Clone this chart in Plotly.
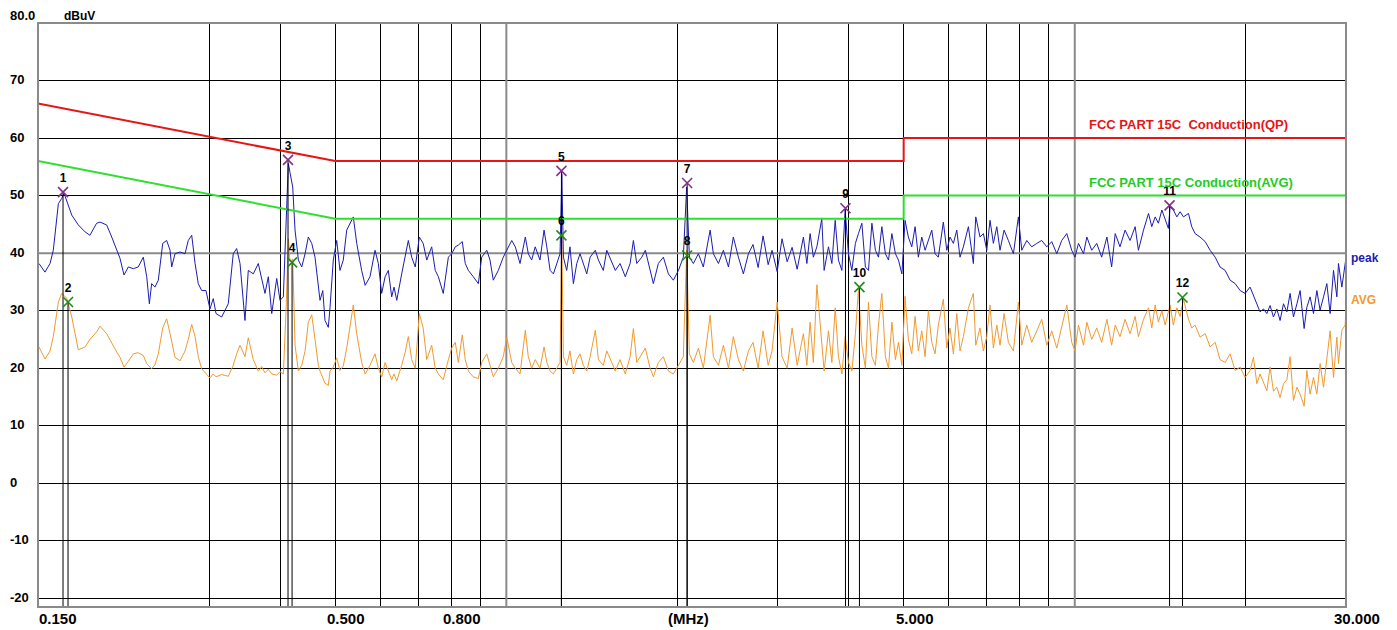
import math
import plotly.graph_objects as go

# ---------------- data ----------------
freq_mhz = [
    0.1506, 0.1543, 0.1575, 0.1596, 0.1629, 0.1651, 0.1667, 0.1685, 0.1720, 0.1766,
    0.1815, 0.1851, 0.1902, 0.1928, 0.1981, 0.2022, 0.2064, 0.2091, 0.2125, 0.2163,
    0.2207, 0.2251, 0.2298, 0.2330, 0.2355, 0.2377, 0.2409, 0.2442, 0.2486, 0.2526,
    0.2561, 0.2578, 0.2613, 0.2667, 0.2721, 0.2757, 0.2796, 0.2834, 0.2871, 0.2911,
    0.2962, 0.3010, 0.3051, 0.3085, 0.3156, 0.3242, 0.3308, 0.3354, 0.3400, 0.3469,
    0.3516, 0.3588, 0.3661, 0.3712, 0.3762, 0.3813, 0.3866, 0.3945, 0.3998, 0.4052,
    0.4097, 0.4135, 0.4163, 0.4209, 0.4249, 0.4307, 0.4366, 0.4425, 0.4484, 0.4546,
    0.4607, 0.4670, 0.4701, 0.4754, 0.4797, 0.4862, 0.4896, 0.4961, 0.5030, 0.5097,
    0.5166, 0.5238,
    0.538, 0.5455, 0.5565, 0.5645, 0.5756, 0.5875, 0.5954, 0.6035, 0.6120, 0.6200,
    0.6285, 0.6345, 0.6415, 0.6545, 0.6640, 0.6723, 0.6815, 0.6914, 0.7030, 0.7140,
    0.7244, 0.7390, 0.7498, 0.7593, 0.7745, 0.7907, 0.8014, 0.8131, 0.8233, 0.8366,
    0.8467, 0.8574, 0.8746, 0.8928, 0.9050, 0.9238, 0.9360, 0.9485, 0.9680, 0.9877,
    1.0017, 1.022, 1.037, 1.057, 1.080, 1.093, 1.108, 1.124, 1.146, 1.165,
    1.178, 1.194, 1.210, 1.227, 1.243, 1.252, 1.260, 1.277, 1.294, 1.312,
    1.330, 1.348, 1.366, 1.385, 1.404, 1.434, 1.452, 1.481, 1.502, 1.533,
    1.555, 1.585, 1.619, 1.651, 1.673, 1.696, 1.731, 1.756, 1.790, 1.814,
    1.851, 1.889, 1.928, 1.967, 2.008, 2.048, 2.076, 2.099, 2.133, 2.177,
    2.221, 2.283, 2.313, 2.361, 2.409, 2.459, 2.508, 2.560, 2.612, 2.666,
    2.716, 2.773, 2.829, 2.888, 2.934, 2.995, 3.055, 3.119, 3.182, 3.248,
    3.331, 3.378, 3.423, 3.468, 3.518, 3.589, 3.623, 3.687, 3.738, 3.789,
    3.839, 3.893, 3.945, 3.998, 4.053, 4.112, 4.163, 4.221, 4.282, 4.336,
    4.396, 4.459, 4.515, 4.577, 4.643, 4.702, 4.767, 4.835, 4.896, 4.964,
    5.028, 5.096, 5.167, 5.237, 5.307, 5.380, 5.453, 5.526, 5.603, 5.678,
    5.754, 5.872, 5.954, 6.032, 6.116, 6.200, 6.282, 6.368, 6.499, 6.631,
    6.696, 6.812, 6.906, 7.001, 7.094, 7.191, 7.291, 7.387, 7.510, 7.642,
    7.799, 7.958, 8.068, 8.233, 8.399, 8.574, 8.746, 8.928, 9.108, 9.297,
    9.485, 9.682, 9.877, 10.01, 10.15, 10.36, 10.50, 10.71, 10.93, 11.15,
    11.39, 11.61, 11.78, 12.01, 12.26, 12.51, 12.77, 12.94, 13.21, 13.48,
    13.66, 13.85, 14.03, 14.23, 14.42, 14.61, 14.71, 14.91, 15.12, 15.32,
    15.53, 15.85, 16.06, 16.28, 16.61, 16.96, 17.30, 17.66, 18.01, 18.39,
    18.76, 19.15, 19.54, 19.94, 20.34, 20.62, 20.91, 21.18, 21.48, 21.77,
    22.06, 22.36, 22.67, 22.97, 23.29, 23.61, 23.92, 24.25, 24.59, 24.91,
    25.32, 25.60, 25.94, 26.30, 26.66, 27.01, 27.39, 27.76, 28.13, 28.52,
    28.91, 29.10, 29.50, 29.90, 30.00,
]

peak_dbuv = [
    38.2, 36.7, 38.2, 40.5, 48.6, 49.5, 50.4, 49.2, 46.6, 44.9,
    43.7, 43.1, 45.2, 45.4, 44.9, 42.8, 40.5, 39.1, 36.2, 37.6,
    37.3, 37.6, 39.3, 35.9, 31.2, 34.7, 34.1, 35.3, 41.7, 42.2,
    40.5, 37.6, 39.9, 40.2, 39.9, 42.2, 43.1, 38.2, 34.7, 33.5,
    33.5, 30.3, 32.1, 29.5, 28.9, 31.2, 39.9, 40.8, 38.2, 28.3,
    37.0, 36.4, 38.2, 35.3, 33.0, 35.9, 29.5, 35.6, 31.8, 32.4,
    45.7, 55.6, 54.0, 51.5, 44.0, 38.8, 37.6, 39.9, 42.8, 41.7,
    39.3, 34.7, 31.8, 33.5, 28.3, 27.1, 30.6, 38.8, 42.2, 37.0,
    38.8, 44.0,
    46.3, 41.7, 37.0, 34.4, 35.9, 40.5, 38.2, 33.0, 35.9, 37.0,
    32.4, 34.1, 31.8, 36.4, 39.3, 42.2, 39.3, 37.6, 42.8, 41.7,
    38.8, 41.1, 37.0, 35.9, 33.0, 39.3, 39.9, 41.1, 41.4, 42.0,
    38.2, 37.0, 35.9, 34.7, 39.3, 40.5, 38.8, 35.3, 37.0, 39.3,
    40.5, 42.2, 41.1, 38.2, 42.8, 39.9, 38.8, 41.1, 38.8, 44.0,
    41.1, 37.0, 36.4, 38.2, 39.9, 53.8, 39.3, 37.0, 41.1, 34.7,
    38.2, 39.9, 38.2, 36.4, 39.3, 40.5, 38.8, 37.0, 40.5, 38.5,
    37.0, 38.2, 35.9, 38.2, 42.2, 38.2, 39.3, 40.5, 37.0, 34.7,
    38.2, 39.3, 36.4, 35.3, 37.0, 39.3, 51.5, 39.3, 38.2, 39.9,
    37.6, 44.0, 39.9, 38.2, 40.5, 37.6, 42.8, 39.3, 36.4, 39.9,
    41.5, 37.5, 43.0, 38.0, 40.5, 36.8, 42.5, 38.5, 41.0, 37.2,
    42.8, 38.2, 43.4, 39.3, 41.1, 46.0, 37.0, 41.1, 38.2, 45.7,
    38.8, 37.0, 47.5, 39.9, 37.0, 41.7, 43.4, 45.2, 37.6, 37.0,
    45.2, 40.5, 39.3, 44.6, 39.9, 38.8, 43.4, 39.9, 38.8, 36.4,
    45.7, 42.8, 41.1, 44.6, 39.3, 42.8, 40.5, 42.2, 44.0, 39.9,
    39.3, 45.4, 40.5, 42.8, 41.7, 44.0, 39.3, 41.1, 44.6, 38.2,
    46.3, 42.8, 43.4, 40.5, 45.7, 41.7, 44.6, 40.5, 44.0, 42.2,
    39.9, 46.3, 40.5, 42.2, 41.1, 41.7, 42.2, 41.1, 42.0, 39.9,
    42.2, 43.4, 40.5, 39.3, 41.7, 39.9, 42.8, 40.5, 41.7, 39.3,
    42.8, 37.6, 43.4, 41.1, 44.0, 42.2, 44.6, 40.5, 44.0, 46.9,
    44.6, 46.3, 45.2, 47.5, 45.7, 44.3, 48.0, 47.5, 46.3, 47.2,
    46.3, 46.9, 44.6, 43.4, 42.8, 42.0, 40.5, 39.3, 37.6, 37.0,
    35.3, 34.7, 33.5, 33.0, 34.1, 32.7, 31.2, 29.8, 30.3, 29.5,
    30.9, 28.9, 30.3, 28.3, 31.2, 29.8, 33.0, 28.9, 31.2, 33.5,
    26.9, 30.6, 32.4, 29.5, 33.5, 30.1, 32.4, 34.7, 29.5, 37.0,
    32.4, 38.2, 34.1, 38.9, 39.2,
]

avg_dbuv = [
    23.7, 21.6, 23.0, 25.5, 31.5, 33.0, 32.6, 32.2, 28.9, 23.2,
    23.7, 25.0, 26.3, 27.3, 26.0, 24.3, 22.8, 21.9, 20.2, 21.2,
    22.5, 22.7, 22.2, 20.8, 20.3, 19.9, 20.6, 22.5, 27.0, 28.6,
    26.0, 24.5, 21.9, 21.3, 23.0, 25.0, 27.6, 25.5, 22.0, 19.9,
    19.0, 18.3, 19.0, 18.5, 18.9, 18.6, 20.5, 22.5, 24.0, 22.0,
    25.3, 21.5, 19.5, 20.3, 19.2, 19.8, 19.0, 18.8, 19.4, 19.0,
    30.0, 42.5, 38.5, 39.0, 24.0, 19.5, 20.5, 23.0, 28.0, 29.3,
    25.0, 20.5, 19.5, 18.5, 17.4, 17.0, 19.5, 20.2, 21.8, 19.6,
    20.4, 23.5,
    31.0, 26.0, 21.0, 19.0, 20.5, 22.5, 20.0, 18.5, 21.0, 19.5,
    18.0, 19.0, 17.8, 20.5, 22.8, 25.5, 21.5, 20.0, 29.5, 27.0,
    21.5, 24.0, 20.0, 19.0, 18.0, 21.5, 23.5, 24.5, 21.0, 25.8,
    21.5, 19.5, 18.5, 18.2, 21.0, 22.5, 20.5, 18.5, 20.0, 22.0,
    25.4, 21.0, 20.0, 19.0, 26.6, 22.0, 20.0, 21.5, 20.0, 23.7,
    21.0, 19.5, 19.0, 20.0, 21.0, 43.0, 22.0, 20.5, 23.0, 19.0,
    21.5, 22.5, 20.5, 19.5, 22.0, 26.6, 21.5, 20.5, 23.0, 21.0,
    19.5, 21.5, 19.0, 22.0, 26.9, 21.0, 22.5, 23.5, 20.0, 18.5,
    21.0, 22.0, 19.5, 19.0, 20.5, 22.0, 40.5, 22.5, 21.0, 23.5,
    20.0, 29.2, 22.0, 20.5, 24.0, 20.0, 25.5, 21.5, 19.5, 23.0,
    24.5, 20.0, 26.5, 20.5, 23.0, 31.5, 22.0, 20.0, 27.0, 20.5,
    26.0, 20.5, 28.0, 21.0, 34.5, 24.0, 19.5, 26.5, 21.0, 30.5,
    22.0, 19.0, 25.5, 21.0, 19.5, 26.0, 33.8, 24.0, 20.0, 31.5,
    22.0, 20.5, 27.5, 33.0, 22.0, 20.0, 28.0, 21.5, 24.5, 20.5,
    32.5, 25.0, 22.5, 29.0, 23.0, 26.5, 22.0, 30.0, 24.5, 22.5,
    27.5, 32.0, 23.5, 27.0, 22.5, 29.5, 23.0, 25.5, 30.5, 33.0,
    24.0, 27.0, 23.0, 25.5, 31.0, 23.5, 27.5, 24.0, 29.5, 24.5,
    23.0, 31.5, 24.0, 27.5, 24.5, 26.5, 28.5, 24.0, 26.5, 23.5,
    27.0, 31.0, 24.5, 23.0, 27.5, 24.0, 28.0, 25.0, 27.0, 24.5,
    28.5, 24.0, 27.5, 25.5, 28.5, 26.0, 29.0, 25.5, 28.5, 30.5,
    27.0, 31.0, 28.0, 30.0, 27.5, 29.5, 31.0, 27.5, 30.5, 29.0,
    32.0, 28.5, 27.0, 27.5, 25.4, 26.0, 23.7, 24.5, 21.5, 21.0,
    22.5, 19.6, 20.2, 18.4, 19.6, 21.9, 17.3, 19.0, 17.5, 16.1,
    20.2, 16.0, 16.7, 14.9, 17.3, 18.0, 22.0, 14.4, 16.7, 15.5,
    13.4, 19.6, 15.5, 18.4, 15.5, 20.8, 16.7, 21.9, 26.5, 18.4,
    25.4, 20.8, 26.6, 27.5, 31.0,
]

limit_freq = [0.15, 0.5, 0.5, 5.0, 5.0, 30.0]
qp_limit_dbuv = [66.0, 56.0, 56.0, 56.0, 60.0, 60.0]
avg_limit_dbuv = [56.0, 46.0, 46.0, 46.0, 50.0, 50.0]

marker_no = ["1", "2", "3", "4", "5", "6", "7", "8", "9", "10", "11", "12"]
marker_freq = [0.166, 0.1694, 0.413, 0.4198, 1.25, 1.25, 2.08, 2.08, 3.95, 4.18, 14.68, 15.47]
marker_dbuv = [50.6, 31.5, 56.2, 38.4, 54.3, 43.1, 52.2, 39.6, 47.8, 34.1, 48.3, 32.3]
marker_det = ["peak", "avg"] * 6

grid_freq = [0.3, 0.4, 0.5, 0.6, 0.7, 0.8, 0.9, 1, 2, 3, 4, 5, 6, 7, 8, 9, 10, 20]
major_freq = [1, 10]
major_level = 40
y_ticks = [-20, -10, 0, 10, 20, 30, 40, 50, 60, 70, 80]
y_tick_text = ["-20", "-10", "0", "10", "20", "30", "40", "50", "60", "70", "80.0"]
x_label_vals = [0.15, 0.5, 0.8, 2.0, 5.0, 30.0]
x_label_text = ["0.150", "0.500", "0.800", "(MHz)", "5.000", "30.000"]

F_MIN, F_MAX = 0.15, 30.0
Y_MIN, Y_MAX = -21.5, 80.0

FONT = "Liberation Sans, Arial, sans-serif"
BLUE = "#1c1cb0"
ORANGE = "#ef9a30"
RED = "#e81515"
GREEN = "#2ee02e"
GRAY = "#8a8a8a"

fig = go.Figure()

# major (gray) grid lines
vx, vy = [], []
for f in major_freq:
    vx += [f, f, None]
    vy += [Y_MIN, Y_MAX, None]
fig.add_trace(go.Scatter(x=vx, y=vy, mode="lines", line=dict(color=GRAY, width=2),
                         hoverinfo="skip", showlegend=False))
fig.add_trace(go.Scatter(x=[F_MIN, F_MAX], y=[major_level, major_level], mode="lines",
                         line=dict(color=GRAY, width=2), hoverinfo="skip", showlegend=False))

# data traces
fig.add_trace(go.Scatter(x=freq_mhz, y=avg_dbuv, mode="lines", name="AVG",
                         line=dict(color=ORANGE, width=1), showlegend=False))
fig.add_trace(go.Scatter(x=freq_mhz, y=peak_dbuv, mode="lines", name="peak",
                         line=dict(color=BLUE, width=1), showlegend=False))

# limit lines
fig.add_trace(go.Scatter(x=limit_freq, y=qp_limit_dbuv, mode="lines", name="QP limit",
                         line=dict(color=RED, width=2), showlegend=False))
fig.add_trace(go.Scatter(x=limit_freq, y=avg_limit_dbuv, mode="lines", name="AVG limit",
                         line=dict(color=GREEN, width=2), showlegend=False))

# marker drop lines
mx, my = [], []
for f, v in zip(marker_freq, marker_dbuv):
    mx += [f, f, None]
    my += [v, Y_MIN, None]
fig.add_trace(go.Scatter(x=mx, y=my, mode="lines", line=dict(color="black", width=1),
                         hoverinfo="skip", showlegend=False))

# markers
for det, col in (("peak", "#84308c"), ("avg", "#1f8a1f")):
    xs = [f for f, d in zip(marker_freq, marker_det) if d == det]
    ys = [v for v, d in zip(marker_dbuv, marker_det) if d == det]
    ts = [n for n, d in zip(marker_no, marker_det) if d == det]
    fig.add_trace(go.Scatter(
        x=xs, y=ys, mode="markers+text", text=[f"<b>{t}</b>" for t in ts],
        textposition="top center", textfont=dict(family=FONT, size=12, color="black"),
        marker=dict(symbol="x-thin-open", size=10, color=col, line=dict(color=col, width=1.6)),
        showlegend=False))

ann = []
for v, t in zip(y_ticks, y_tick_text):
    ann.append(dict(x=0, xref="paper", y=v, yref="y", text=f"<b>{t}</b>",
                    xanchor="left", yanchor="middle", xshift=-30,
                    yshift=8 if v == 80 else 1, showarrow=False,
                    font=dict(family=FONT, size=13, color="black")))
for v, t in zip(x_label_vals, x_label_text):
    first = v == F_MIN
    ann.append(dict(x=math.log10(v), xref="x", y=0, yref="paper", text=f"<b>{t}</b>",
                    xanchor="left" if first else "center", yanchor="top",
                    xshift=-1 if first else 11, yshift=-1, showarrow=False,
                    font=dict(family=FONT, size=15, color="black")))
ann.append(dict(x=0, xref="paper", y=1, yref="paper", text="<b>dBuV</b>",
                xanchor="left", yanchor="middle", xshift=24, yshift=7, showarrow=False,
                font=dict(family=FONT, size=12, color="black")))
ann.append(dict(x=math.log10(10.5), xref="x", y=62.3, yref="y",
                text="<b>FCC PART 15C\u00a0 Conduction(QP)</b>", xanchor="left",
                yanchor="middle", showarrow=False, font=dict(family=FONT, size=13, color=RED)))
ann.append(dict(x=math.log10(10.5), xref="x", y=52.2, yref="y",
                text="<b>FCC PART 15C Conduction(AVG)</b>", xanchor="left",
                yanchor="middle", showarrow=False, font=dict(family=FONT, size=13, color="#22cc22")))
ann.append(dict(x=1, xref="paper", y=peak_dbuv[-1], yref="y", text="<b>peak</b>",
                xanchor="left", yanchor="middle", xshift=3, showarrow=False,
                font=dict(family=FONT, size=12, color=BLUE)))
ann.append(dict(x=1, xref="paper", y=31.8, yref="y", text="<b>AVG</b>",
                xanchor="left", yanchor="middle", xshift=3, showarrow=False,
                font=dict(family=FONT, size=12, color=ORANGE)))

# page body adds an 8 px offset, so the figure is sized to fit the remaining window
fig.update_layout(
    width=1389, height=622,
    margin=dict(l=30, r=51, t=15, b=23),
    paper_bgcolor="white", plot_bgcolor="white",
    showlegend=False,
    annotations=ann,
    xaxis=dict(type="log", range=[math.log10(F_MIN), math.log10(F_MAX)],
               tickvals=grid_freq, showticklabels=False, ticks="",
               showgrid=True, gridcolor="black", gridwidth=1,
               showline=False, zeroline=False, fixedrange=True),
    yaxis=dict(range=[Y_MIN, Y_MAX], tickvals=y_ticks[:-1], showticklabels=False,
               ticks="", showgrid=True, gridcolor="black", gridwidth=1,
               showline=False, zeroline=False, fixedrange=True),
    shapes=[dict(type="rect", xref="paper", yref="paper", x0=0, x1=1, y0=0, y1=1,
                 line=dict(color=GRAY, width=2), layer="above")],
)

fig.write_html("out.html")
